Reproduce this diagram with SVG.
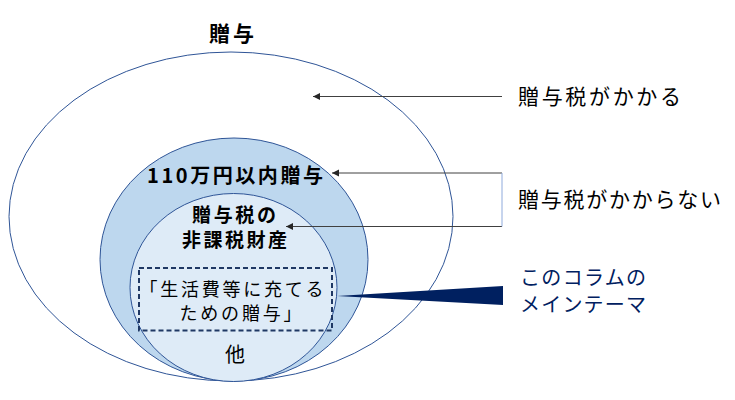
<svg xmlns="http://www.w3.org/2000/svg" width="735" height="400" viewBox="0 0 735 400">
<defs>
<marker id="ah" markerWidth="8" markerHeight="8" refX="7" refY="4" orient="auto" markerUnits="userSpaceOnUse">
<path d="M0,0.5 L7,4 L0,7.5 Z" fill="#262626"/>
</marker>
<style>
text{font-family:"Noto Sans CJK JP","Noto Sans",sans-serif;fill:#000}
.b{font-weight:bold}
.n{fill:#002060}
.ln{stroke:#404040;stroke-width:1;fill:none}
.el{stroke:#2F5597;stroke-width:1}
</style>
</defs>
<rect width="735" height="400" fill="#fff"/>
<g id="outer">
<ellipse class="el" cx="231" cy="216.5" rx="222" ry="164.5" fill="#fff"/>
<text class="b" x="209" y="41" font-size="21" textLength="45">贈与</text>
</g>
<g id="mid">
<ellipse class="el" cx="234" cy="259.5" rx="134" ry="121.5" fill="#BDD7EE"/>
<text class="b" x="147" y="182.5" font-size="20" textLength="176">110万円以内贈与</text>
</g>
<g id="inner">
<ellipse class="el" cx="233.5" cy="287.5" rx="103.5" ry="94" fill="#DEEBF7"/>
<text class="b" x="192" y="222" font-size="19" textLength="84">贈与税の</text>
<text class="b" x="182" y="247" font-size="19" textLength="105">非課税財産</text>
<text x="235" y="362" font-size="20" text-anchor="middle">他</text>
</g>
<g id="theme">
<rect x="139" y="268" width="193" height="62.5" fill="none" stroke="#1F3864" stroke-width="2" stroke-dasharray="5,3"/>
<text x="139.5" y="295.5" font-size="18" textLength="184">「生活費等に充てる</text>
<text x="179.5" y="320" font-size="18" textLength="122">ための贈与」</text>
</g>
<g id="labels">
<text x="518" y="104" font-size="21" textLength="163">贈与税がかかる</text>
<text x="518" y="207" font-size="21" textLength="203">贈与税がかからない</text>
<text class="n" x="520" y="285" font-size="20" textLength="126">このコラムの</text>
<text class="n" x="520" y="312" font-size="20" textLength="126">メインテーマ</text>
</g>
<g id="connectors">
<line class="ln" x1="502" y1="96.5" x2="313" y2="96.5" marker-end="url(#ah)"/>
<line class="ln" x1="502" y1="173" x2="332" y2="173" marker-end="url(#ah)"/>
<line class="ln" x1="502" y1="226.5" x2="286" y2="226.5" marker-end="url(#ah)"/>
<line x1="502" y1="173" x2="502" y2="226.5" stroke="#8FAADC" stroke-width="1"/>
<polygon points="337,296 503,286 503,305" fill="#002060"/>
</g>
</svg>
